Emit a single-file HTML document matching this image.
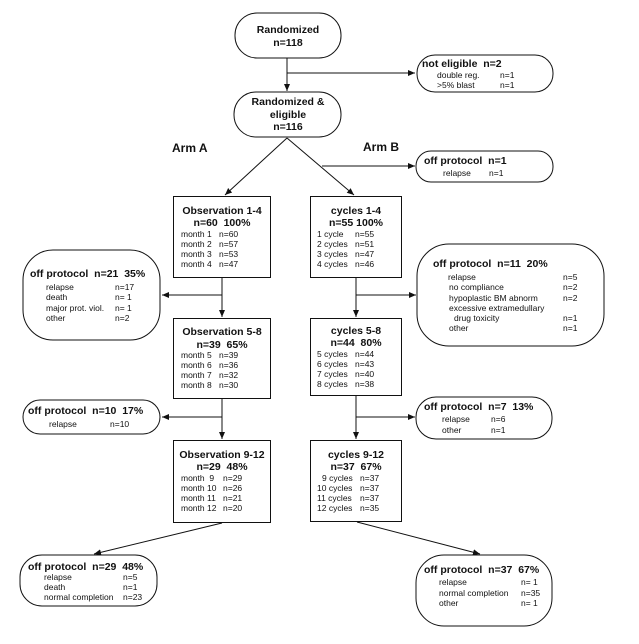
<!DOCTYPE html>
<html><head><meta charset="utf-8"><style>
body{margin:0;background:#fff}
svg{display:block}
text{font-family:"Liberation Sans",Arial,sans-serif;fill:#111;white-space:pre}
.t{font-size:10.5px;font-weight:bold}
.s{font-size:8.5px}
.a{font-size:12px;font-weight:bold}
</style></head><body>
<svg width="639" height="644" viewBox="0 0 639 644" xmlns="http://www.w3.org/2000/svg" xml:space="preserve">
<defs><marker id="ar" markerWidth="8" markerHeight="8" refX="7" refY="4" orient="auto" markerUnits="userSpaceOnUse"><path d="M0,1 L7,4 L0,7 z" fill="#111"/></marker></defs>
<g fill="none" stroke="#111" stroke-width="1">
<rect x="235" y="13" width="106" height="45" rx="22"/>
<rect x="417" y="55" width="136" height="37" rx="18"/>
<rect x="234" y="92" width="107" height="45" rx="22"/>
<rect x="416" y="151" width="137" height="31" rx="15"/>
<rect x="173.5" y="196.5" width="97" height="81"/>
<rect x="310.5" y="196.5" width="91" height="81"/>
<rect x="23" y="250" width="137" height="90" rx="30"/>
<rect x="417" y="244" width="187" height="102" rx="32"/>
<rect x="173.5" y="318.5" width="97" height="80"/>
<rect x="310.5" y="318.5" width="91" height="77"/>
<rect x="23" y="400" width="137" height="34" rx="17"/>
<rect x="416" y="397" width="136" height="42" rx="20"/>
<rect x="173.5" y="440.5" width="97" height="82"/>
<rect x="310.5" y="440.5" width="91" height="81"/>
<rect x="20" y="555" width="137" height="51" rx="22"/>
<rect x="416" y="555" width="136" height="71" rx="28"/>
</g>
<g stroke="#111" stroke-width="1" fill="none">
<line x1="287" y1="58" x2="287" y2="91" marker-end="url(#ar)"/>
<line x1="287" y1="73" x2="415" y2="73" marker-end="url(#ar)"/>
<line x1="287" y1="138" x2="225" y2="195" marker-end="url(#ar)"/>
<line x1="287" y1="138" x2="354" y2="195" marker-end="url(#ar)"/>
<line x1="322" y1="166" x2="415" y2="166" marker-end="url(#ar)"/>
<line x1="222" y1="278" x2="222" y2="317" marker-end="url(#ar)"/>
<line x1="222" y1="295" x2="162" y2="295" marker-end="url(#ar)"/>
<line x1="356" y1="278" x2="356" y2="317" marker-end="url(#ar)"/>
<line x1="356" y1="295" x2="416" y2="295" marker-end="url(#ar)"/>
<line x1="222" y1="399" x2="222" y2="439" marker-end="url(#ar)"/>
<line x1="222" y1="417" x2="162" y2="417" marker-end="url(#ar)"/>
<line x1="356" y1="396" x2="356" y2="439" marker-end="url(#ar)"/>
<line x1="356" y1="417" x2="415" y2="417" marker-end="url(#ar)"/>
<line x1="222" y1="523" x2="94" y2="554" marker-end="url(#ar)"/>
<line x1="357" y1="522" x2="480" y2="554" marker-end="url(#ar)"/>
</g>
<text class="t" x="288" y="33" text-anchor="middle">Randomized</text>
<text class="t" x="288" y="46" text-anchor="middle">n=118</text>
<text class="t" x="422" y="67">not eligible  n=2</text>
<text class="s" x="437" y="78">double reg.</text><text class="s" x="500" y="78">n=1</text>
<text class="s" x="437" y="88">&gt;5% blast</text><text class="s" x="500" y="88">n=1</text>
<text class="t" x="288" y="105" text-anchor="middle">Randomized &amp;</text>
<text class="t" x="288" y="118" text-anchor="middle">eligible</text>
<text class="t" x="288" y="130" text-anchor="middle">n=116</text>
<text class="a" x="172" y="152">Arm A</text>
<text class="a" x="363" y="151">Arm B</text>
<text class="t" x="424" y="164">off protocol  n=1</text>
<text class="s" x="443" y="176">relapse</text><text class="s" x="489" y="176">n=1</text>
<text class="t" x="222" y="214" text-anchor="middle">Observation 1-4</text>
<text class="t" x="222" y="226" text-anchor="middle">n=60  100%</text>
<text class="s" x="181" y="237">month 1</text><text class="s" x="219" y="237">n=60</text>
<text class="s" x="181" y="247">month 2</text><text class="s" x="219" y="247">n=57</text>
<text class="s" x="181" y="257">month 3</text><text class="s" x="219" y="257">n=53</text>
<text class="s" x="181" y="267">month 4</text><text class="s" x="219" y="267">n=47</text>
<text class="t" x="356" y="214" text-anchor="middle">cycles 1-4</text>
<text class="t" x="356" y="226" text-anchor="middle">n=55 100%</text>
<text class="s" x="317" y="237">1 cycle</text><text class="s" x="355" y="237">n=55</text>
<text class="s" x="317" y="247">2 cycles</text><text class="s" x="355" y="247">n=51</text>
<text class="s" x="317" y="257">3 cycles</text><text class="s" x="355" y="257">n=47</text>
<text class="s" x="317" y="267">4 cycles</text><text class="s" x="355" y="267">n=46</text>
<text class="t" x="30" y="277">off protocol  n=21  35%</text>
<text class="s" x="46" y="290">relapse</text><text class="s" x="115" y="290">n=17</text>
<text class="s" x="46" y="300">death</text><text class="s" x="115" y="300">n= 1</text>
<text class="s" x="46" y="311">major prot. viol.</text><text class="s" x="115" y="311">n= 1</text>
<text class="s" x="46" y="321">other</text><text class="s" x="115" y="321">n=2</text>
<text class="t" x="433" y="267">off protocol  n=11  20%</text>
<text class="s" x="448" y="280">relapse</text><text class="s" x="563" y="280">n=5</text>
<text class="s" x="449" y="290">no compliance</text><text class="s" x="563" y="290">n=2</text>
<text class="s" x="449" y="301">hypoplastic BM abnorm</text><text class="s" x="563" y="301">n=2</text>
<text class="s" x="449" y="311">excessive extramedullary</text>
<text class="s" x="454" y="321">drug toxicity</text><text class="s" x="563" y="321">n=1</text>
<text class="s" x="449" y="331">other</text><text class="s" x="563" y="331">n=1</text>
<text class="t" x="222" y="335" text-anchor="middle">Observation 5-8</text>
<text class="t" x="222" y="348" text-anchor="middle">n=39  65%</text>
<text class="s" x="181" y="358">month 5</text><text class="s" x="219" y="358">n=39</text>
<text class="s" x="181" y="368">month 6</text><text class="s" x="219" y="368">n=36</text>
<text class="s" x="181" y="378">month 7</text><text class="s" x="219" y="378">n=32</text>
<text class="s" x="181" y="388">month 8</text><text class="s" x="219" y="388">n=30</text>
<text class="t" x="356" y="334" text-anchor="middle">cycles 5-8</text>
<text class="t" x="356" y="346" text-anchor="middle">n=44  80%</text>
<text class="s" x="317" y="357">5 cycles</text><text class="s" x="355" y="357">n=44</text>
<text class="s" x="317" y="367">6 cycles</text><text class="s" x="355" y="367">n=43</text>
<text class="s" x="317" y="377">7 cycles</text><text class="s" x="355" y="377">n=40</text>
<text class="s" x="317" y="387">8 cycles</text><text class="s" x="355" y="387">n=38</text>
<text class="t" x="28" y="414">off protocol  n=10  17%</text>
<text class="s" x="49" y="427">relapse</text><text class="s" x="110" y="427">n=10</text>
<text class="t" x="424" y="410">off protocol  n=7  13%</text>
<text class="s" x="442" y="422">relapse</text><text class="s" x="491" y="422">n=6</text>
<text class="s" x="442" y="433">other</text><text class="s" x="491" y="433">n=1</text>
<text class="t" x="222" y="458" text-anchor="middle">Observation 9-12</text>
<text class="t" x="222" y="470" text-anchor="middle">n=29  48%</text>
<text class="s" x="181" y="481">month  9</text><text class="s" x="223" y="481">n=29</text>
<text class="s" x="181" y="491">month 10</text><text class="s" x="223" y="491">n=26</text>
<text class="s" x="181" y="501">month 11</text><text class="s" x="223" y="501">n=21</text>
<text class="s" x="181" y="511">month 12</text><text class="s" x="223" y="511">n=20</text>
<text class="t" x="356" y="458" text-anchor="middle">cycles 9-12</text>
<text class="t" x="356" y="470" text-anchor="middle">n=37  67%</text>
<text class="s" x="322" y="481">9 cycles</text><text class="s" x="360" y="481">n=37</text>
<text class="s" x="317" y="491">10 cycles</text><text class="s" x="360" y="491">n=37</text>
<text class="s" x="317" y="501">11 cycles</text><text class="s" x="360" y="501">n=37</text>
<text class="s" x="317" y="511">12 cycles</text><text class="s" x="360" y="511">n=35</text>
<text class="t" x="28" y="570">off protocol  n=29  48%</text>
<text class="s" x="44" y="580">relapse</text><text class="s" x="123" y="580">n=5</text>
<text class="s" x="44" y="590">death</text><text class="s" x="123" y="590">n=1</text>
<text class="s" x="44" y="600">normal completion</text><text class="s" x="123" y="600">n=23</text>
<text class="t" x="424" y="573">off protocol  n=37  67%</text>
<text class="s" x="439" y="585">relapse</text><text class="s" x="521" y="585">n= 1</text>
<text class="s" x="439" y="596">normal completion</text><text class="s" x="521" y="596">n=35</text>
<text class="s" x="439" y="606">other</text><text class="s" x="521" y="606">n= 1</text>
</svg>
</body></html>
